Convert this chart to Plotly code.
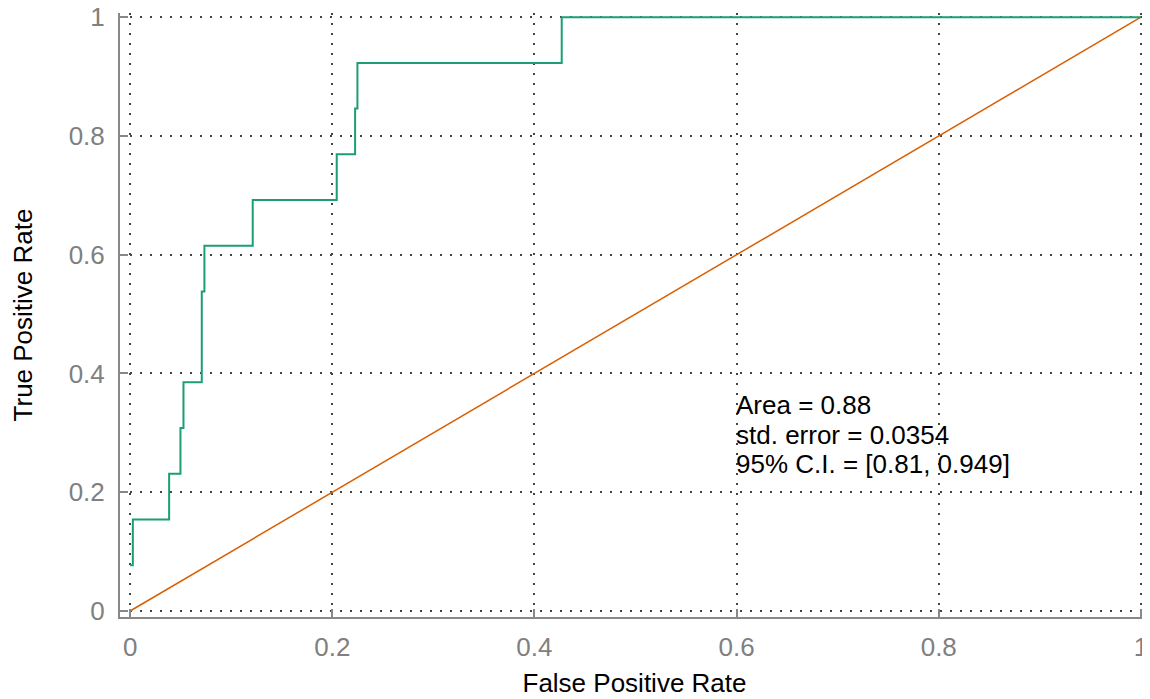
import plotly.graph_objects as go

# ROC step curve corners (horizontal then vertical)
fpr = [0.0, 0.0027, 0.0386, 0.0498, 0.0528, 0.0709, 0.0735, 0.1213, 0.2044, 0.2226, 0.2249, 0.427, 1.0]
tpr = [0.077, 0.154, 0.231, 0.308, 0.385, 0.538, 0.615, 0.692, 0.769, 0.846, 0.923, 1.0, 1.0]

diag_x = [0, 1]
diag_y = [0, 1]

tick_vals = [0, 0.2, 0.4, 0.6, 0.8, 1]
tick_text = ["0", "0.2", "0.4", "0.6", "0.8", "1"]

stats_lines = ["Area = 0.88", "std. error = 0.0354", "95% C.I. = [0.81, 0.949]"]
stats_y = [0.347, 0.296, 0.2475]
stats_x = 0.6

FONT = "Liberation Sans, Arial, Helvetica, sans-serif"

fig = go.Figure()
fig.add_trace(go.Scatter(x=diag_x, y=diag_y, mode="lines",
                         line=dict(color="#d95f02", width=1.5), showlegend=False))
fig.add_trace(go.Scatter(x=fpr, y=tpr, mode="lines", line_shape="hv",
                         line=dict(color="#1b9e77", width=2), showlegend=False))

for t, yy in zip(stats_lines, stats_y):
    fig.add_annotation(x=stats_x, y=yy, xref="x", yref="y", text=t, showarrow=False,
                       xanchor="left", yanchor="middle", xshift=-3,
                       font=dict(family=FONT, size=26, color="black"))

axis_common = dict(
    tickvals=tick_vals, ticktext=tick_text, automargin=False,
    ticklabeloverflow="allow",
    showgrid=True, gridcolor="#444444", gridwidth=1.5, griddash="2px,8px",
    zeroline=False, showline=True, linecolor="#888888", linewidth=2,
    ticks="inside", ticklen=8, tickcolor="#888888", tickwidth=2,
    tickfont=dict(family=FONT, size=26, color="#808080"),
)

fig.update_xaxes(range=[-0.01, 1.008], ticklabelstandoff=6,
                 title=dict(text="False Positive Rate", standoff=13,
                            font=dict(family=FONT, size=26, color="black")), **axis_common)
fig.update_yaxes(range=[-0.0101, 1.007], ticklabelstandoff=8,
                 title=dict(text="True Positive Rate", standoff=45,
                            font=dict(family=FONT, size=26, color="black")), **axis_common)

fig.update_layout(
    width=1142, height=691,
    margin=dict(l=112, r=1, t=5, b=82, autoexpand=False),
    plot_bgcolor="white", paper_bgcolor="white",
    font=dict(family=FONT),
)

fig.write_html("out.html")
